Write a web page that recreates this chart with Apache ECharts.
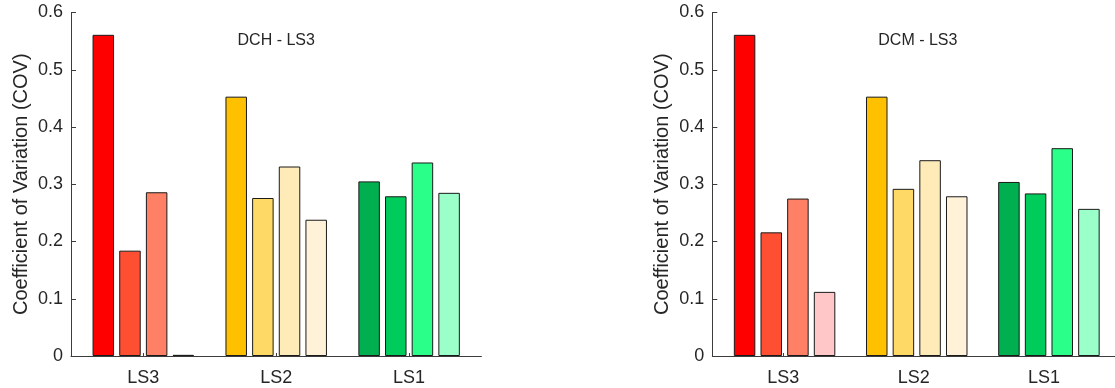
<!DOCTYPE html>
<html>
<head>
<meta charset="utf-8">
<script src="https://cdn.jsdelivr.net/npm/echarts@6/dist/echarts.min.js"></script>
<style>
  html, body { margin: 0; padding: 0; background: #fff; }
  #chart { width: 1115px; height: 388px; }
</style>
</head>
<body>
<div id="chart"></div>
<script>
// Categories along the x axis
const categories = ['LS3', 'LS2', 'LS1'];

// Y axis tick values
const yTicks = [0, 0.1, 0.2, 0.3, 0.4, 0.5, 0.6];

// Panel titles
const panelTitles = ['DCH - LS3', 'DCM - LS3'];

// DCH - LS3: four bars per category
const dchBar1 = [0.561, 0.453, 0.305];
const dchBar2 = [0.184, 0.276, 0.279];
const dchBar3 = [0.286, 0.331, 0.338];
const dchBar4 = [0.002, 0.238, 0.285];

// DCM - LS3: four bars per category
const dcmBar1 = [0.561, 0.453, 0.304];
const dcmBar2 = [0.216, 0.292, 0.284];
const dcmBar3 = [0.275, 0.342, 0.363];
const dcmBar4 = [0.112, 0.279, 0.257];

// Fill colours per category, darkest to lightest
const ls3Colors = ['#FF0000', '#FF4F33', '#FF8064', '#FFC7C8'];
const ls2Colors = ['#FFC000', '#FFD966', '#FFEBB8', '#FFF2D9'];
const ls1Colors = ['#00AF50', '#00CC5C', '#2AFF8A', '#9AFFC8'];
const groupColors = [ls3Colors, ls2Colors, ls1Colors];

const FONT = "'Liberation Sans', Arial, Helvetica, sans-serif";
const TEXT = '#262626';
const AXIS = '#3c3c3c';

const chart = echarts.init(document.getElementById('chart'), null, { renderer: 'canvas' });

const TOP = 12.5, HEIGHT = 343.5;
const X_MIN = 0.456, X_MAX = 3.544;
const panels = [
  { axisLeft: 71, barsLeft: 76.85, width: 410.4, bars: [dchBar1, dchBar2, dchBar3, dchBar4], title: panelTitles[0] },
  { axisLeft: 712.3, barsLeft: 718.5, width: 410.4, bars: [dcmBar1, dcmBar2, dcmBar3, dcmBar4], title: panelTitles[1] }
];

const grid = [], xAxis = [], yAxis = [], series = [], graphic = [];

panels.forEach((p, pi) => {
  const frameIdx = pi * 2, barIdx = pi * 2 + 1;
  const bandWidth = p.width / (X_MAX - X_MIN);
  grid.push({ left: p.axisLeft, top: TOP, width: p.width, height: HEIGHT, containLabel: false });
  grid.push({ left: p.barsLeft, top: TOP, width: bandWidth * 3, height: HEIGHT, containLabel: false });

  // Frame axes: y axis with ticks, x axis line with category labels
  xAxis.push({
    type: 'value', gridIndex: frameIdx, min: X_MIN, max: X_MAX,
    axisLine: { show: true, onZero: false, lineStyle: { color: AXIS, width: 1 } },
    axisTick: { show: true, inside: true, length: 3, customValues: [1, 2, 3], lineStyle: { color: AXIS } },
    axisLabel: {
      show: true, customValues: [1, 2, 3], margin: 13,
      formatter: v => categories[Math.round(v) - 1] || '',
      fontFamily: FONT, fontSize: 18, color: TEXT
    },
    splitLine: { show: false }
  });
  yAxis.push({
    type: 'value', gridIndex: frameIdx, min: 0, max: 0.6, interval: 0.1,
    name: 'Coefficient of Variation (COV)', nameLocation: 'middle', nameGap: 40,
    nameTextStyle: { fontFamily: FONT, fontSize: 20, color: TEXT },
    axisLine: { show: true, lineStyle: { color: AXIS, width: 1 } },
    axisTick: { show: true, inside: true, length: 5, lineStyle: { color: AXIS } },
    axisLabel: {
      show: true, margin: 8, fontFamily: FONT, fontSize: 18, color: TEXT,
      formatter: v => {
        const t = yTicks.find(k => Math.abs(k - v) < 1e-9);
        return t === 0 ? '0' : (t !== undefined ? t.toFixed(1) : '');
      }
    },
    splitLine: { show: false }
  });

  // Bar axes share the vertical scale, hidden
  xAxis.push({ type: 'category', gridIndex: barIdx, data: categories, show: false });
  yAxis.push({ type: 'value', gridIndex: barIdx, min: 0, max: 0.6, show: false });

  p.bars.forEach((vals, si) => {
    series.push({
      type: 'bar', xAxisIndex: barIdx, yAxisIndex: barIdx,
      barWidth: 21.5, barGap: '24%',
      data: vals.map((v, ci) => ({
        value: v,
        itemStyle: { color: groupColors[ci][si] }
      })),
      itemStyle: { borderColor: '#1a1a1a', borderWidth: 1 },
      emphasis: { disabled: true },
      animation: false
    });
  });

  graphic.push({
    type: 'text',
    x: p.barsLeft + bandWidth * 1.5,
    y: 40.5,
    style: {
      text: p.title, fontFamily: FONT, fontSize: 16, fill: TEXT,
      align: 'center', verticalAlign: 'middle'
    }
  });
});

chart.setOption({
  backgroundColor: '#ffffff',
  animation: false,
  grid, xAxis, yAxis, series, graphic
});
</script>
</body>
</html>
